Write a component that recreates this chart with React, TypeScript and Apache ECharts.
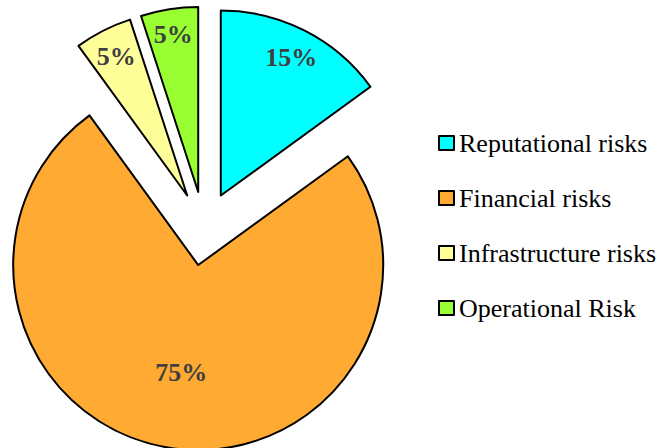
import React, { useEffect, useRef } from "react";
import * as echarts from "echarts";

const categories = ["Reputational risks", "Financial risks", "Infrastructure risks", "Operational Risk"];
const values = [15, 75, 5, 5];
const colors = ["#00FFFF", "#FFAA33", "#FFFF99", "#99FF33"];
// label distance from slice tip, as a fraction of radius
const labelFractions = [0.84, 0.59, 0.845, 0.86];

const CENTER: [number, number] = [204, 228.5];
const RADIUS = 185;
const OFFSET = 37;

export default function App() {
  const ref = useRef<HTMLDivElement>(null);
  useEffect(() => {
    document.body.style.margin = "0";
    if (!ref.current) return;
    const chart = echarts.init(ref.current, undefined, { renderer: "svg" });
    const total = values.reduce((a, b) => a + b, 0);
    const mids: number[] = [];
    let acc = 0;
    values.forEach((v) => {
      mids.push(((acc + v / 2) / total) * 2 * Math.PI);
      acc += v;
    });
    const labelTexts = values.map((v, i) => {
      const a = mids[i];
      const sx = Math.sin(a);
      const sy = -Math.cos(a);
      const tipX = CENTER[0] + OFFSET * sx;
      const tipY = CENTER[1] + OFFSET * sy;
      return {
        type: "text",
        x: tipX + labelFractions[i] * RADIUS * sx,
        y: tipY + labelFractions[i] * RADIUS * sy,
        z: 100,
        silent: true,
        style: {
          text: v + "%",
          fontFamily: "Liberation Serif",
          fontWeight: "bold",
          fontSize: 26,
          fill: "#404040",
          align: "center",
          verticalAlign: "middle",
        },
      };
    });
    chart.setOption({
      animation: false,
      backgroundColor: "#ffffff",
      legend: {
        orient: "vertical",
        left: 438,
        top: 130,
        padding: 0,
        itemWidth: 15,
        itemHeight: 14,
        itemGap: 29,
        icon: "rect",
        data: categories,
        selectedMode: false,
        textStyle: {
          fontFamily: "Liberation Serif",
          fontSize: 26,
          color: "#000000",
          lineHeight: 26,
        },
      },
      graphic: labelTexts,
      series: [
        {
          type: "pie",
          center: CENTER,
          radius: RADIUS,
          startAngle: 90,
          clockwise: true,
          selectedMode: "multiple",
          selectedOffset: OFFSET,
          emphasis: { disabled: true },
          itemStyle: { borderColor: "#000000", borderWidth: 2 },
          label: { show: false },
          labelLine: { show: false },
          data: categories.map((name, i) => ({
            name,
            value: values[i],
            selected: true,
            itemStyle: { color: colors[i] },
          })),
        },
      ],
    });
    return () => chart.dispose();
  }, []);
  return <div ref={ref} style={{ width: 661, height: 448 }} />;
}
